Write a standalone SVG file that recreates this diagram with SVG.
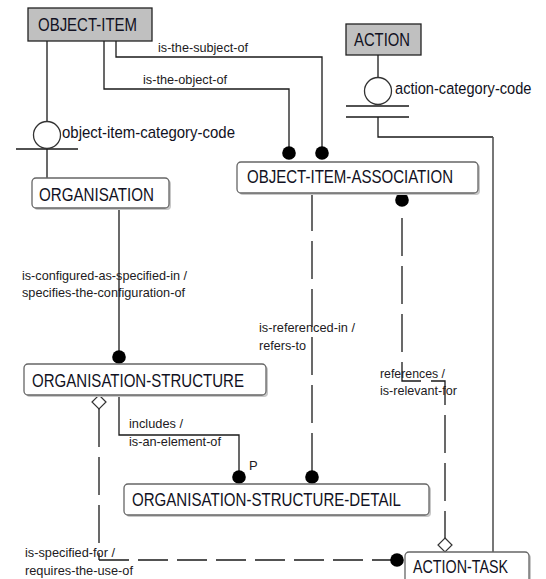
<svg xmlns="http://www.w3.org/2000/svg" width="546" height="579" viewBox="0 0 546 579">
  <style>
    .bg { fill: #ffffff; }
    .ent { fill: #ffffff; stroke: #666666; stroke-width: 1.3; }
    .shadow { fill: #c8c8c8; }
    .key { fill: #c0c0c0; stroke: #222222; stroke-width: 1.3; }
    .name { font-family: "Liberation Sans", Arial, sans-serif; font-size: 17.5px; fill: #111122; }
    .lbl { font-family: "Liberation Sans", Arial, sans-serif; font-size: 13px; fill: #221a22; }
    .cat { font-family: "Liberation Sans", Arial, sans-serif; font-size: 17px; fill: #111122; }
    .ln { fill: none; stroke: #1a1a1a; stroke-width: 1.3; }
    .dash { fill: none; stroke: #1a1a1a; stroke-width: 1.3; stroke-dasharray: 38 10; }
    .dashh { fill: none; stroke: #1a1a1a; stroke-width: 1.3; stroke-dasharray: 30 9; }
    .dot { fill: #000000; }
    .ring { fill: #ffffff; stroke: #333333; stroke-width: 1.3; }
    .dia { fill: #ffffff; stroke: #333333; stroke-width: 1.2; }
  </style>
  <rect class="bg" x="0" y="0" width="546" height="579"/>

  <!-- relationships -->
  <g id="connectors">
    <!-- OBJECT-ITEM category to ORGANISATION -->
    <path class="ln" d="M47,41 V121 M47,149 V178 M16,149 H78"/>
    <circle class="ring" cx="47" cy="135" r="13.5"/>
    <!-- ACTION category to ACTION-TASK -->
    <path class="ln" d="M378,55 V77 M346,106 H409 M346,117 H409 M378,117 V137 H493"/>
    <path d="M493,137 V552" fill="none" stroke="#555555" stroke-width="1.6"/>
    <circle class="ring" cx="378" cy="91" r="13.5"/>
    <!-- is-the-subject-of / is-the-object-of -->
    <path class="ln" d="M116,41 V57 H322 V153"/>
    <path class="ln" d="M104,41 V89 H289 V153"/>
    <circle class="dot" cx="322" cy="153" r="6.8"/>
    <circle class="dot" cx="289" cy="153" r="6.8"/>
    <!-- ORGANISATION to ORGANISATION-STRUCTURE -->
    <path class="ln" d="M119,208 V357"/>
    <circle class="dot" cx="119" cy="357" r="6.8"/>
    <!-- includes / is-an-element-of -->
    <path class="ln" d="M119,395 V435 H239 V477"/>
    <circle class="dot" cx="239" cy="477" r="6.8"/>
    <!-- is-referenced-in / refers-to -->
    <path class="dash" d="M312,193 V477"/>
    <circle class="dot" cx="312" cy="477" r="6.8"/>
    <!-- references / is-relevant-for -->
    <circle class="dot" cx="402" cy="200" r="6.8"/>
    <path class="dash" d="M402,218 V381 H445 V538"/>
    <polygon class="dia" points="445,538 452,545 445,552 438,545"/>
    <!-- is-specified-for / requires-the-use-of -->
    <polygon class="dia" points="99,395 106,402 99,409 92,402"/>
    <path class="dash" d="M99,409 V560"/>
    <path class="dashh" d="M99,560 H397"/>
    <circle class="dot" cx="397" cy="560" r="6.8"/>
  </g>

  <!-- relationship and category labels -->
  <g id="labels">
    <text class="lbl" x="158" y="52" textLength="90" lengthAdjust="spacingAndGlyphs">is-the-subject-of</text>
    <text class="lbl" x="143" y="84" textLength="84" lengthAdjust="spacingAndGlyphs">is-the-object-of</text>
    <text class="cat" x="62" y="138" textLength="173" lengthAdjust="spacingAndGlyphs">object-item-category-code</text>
    <text class="cat" transform="translate(395 94) scale(0.86 1)">action-category-code</text>
    <text class="lbl" x="22" y="280" textLength="165" lengthAdjust="spacingAndGlyphs">is-configured-as-specified-in /</text>
    <text class="lbl" x="22" y="297" textLength="163" lengthAdjust="spacingAndGlyphs">specifies-the-configuration-of</text>
    <text class="lbl" x="259" y="332" textLength="96" lengthAdjust="spacingAndGlyphs">is-referenced-in /</text>
    <text class="lbl" x="259" y="350" textLength="47" lengthAdjust="spacingAndGlyphs">refers-to</text>
    <text class="lbl" x="380" y="378" textLength="65" lengthAdjust="spacingAndGlyphs">references /</text>
    <text class="lbl" x="380" y="395" textLength="77" lengthAdjust="spacingAndGlyphs">is-relevant-for</text>
    <text class="lbl" x="129" y="428" textLength="54" lengthAdjust="spacingAndGlyphs">includes /</text>
    <text class="lbl" x="129" y="446" textLength="92" lengthAdjust="spacingAndGlyphs">is-an-element-of</text>
    <text class="lbl" x="249" y="470">P</text>
    <text class="lbl" x="25" y="557" textLength="90" lengthAdjust="spacingAndGlyphs">is-specified-for /</text>
    <text class="lbl" x="25" y="575" textLength="108" lengthAdjust="spacingAndGlyphs">requires-the-use-of</text>
  </g>

  <!-- entities -->
  <g id="object-item">
    <rect class="key" x="28" y="8" width="124" height="33"/>
    <text class="name" x="38" y="31" textLength="99" lengthAdjust="spacingAndGlyphs">OBJECT-ITEM</text>
  </g>
  <g id="action">
    <rect class="key" x="346" y="24" width="75" height="31"/>
    <text class="name" x="354" y="46" textLength="56" lengthAdjust="spacingAndGlyphs">ACTION</text>
  </g>
  <g id="object-item-association">
    <rect class="shadow" x="239" y="164" width="241" height="31" rx="4"/>
    <rect class="ent" x="237" y="162" width="241" height="31" rx="4"/>
    <text class="name" x="247" y="183" textLength="206" lengthAdjust="spacingAndGlyphs">OBJECT-ITEM-ASSOCIATION</text>
  </g>
  <g id="organisation">
    <rect class="shadow" x="34" y="180" width="137" height="30" rx="4"/>
    <rect class="ent" x="32" y="178" width="137" height="30" rx="4"/>
    <text class="name" x="39" y="201" textLength="115" lengthAdjust="spacingAndGlyphs">ORGANISATION</text>
  </g>
  <g id="organisation-structure">
    <rect class="shadow" x="26" y="366" width="242" height="31" rx="4"/>
    <rect class="ent" x="24" y="364" width="242" height="31" rx="4"/>
    <text class="name" x="32" y="387" textLength="212" lengthAdjust="spacingAndGlyphs">ORGANISATION-STRUCTURE</text>
  </g>
  <g id="organisation-structure-detail">
    <rect class="shadow" x="126" y="486" width="305" height="31" rx="4"/>
    <rect class="ent" x="124" y="484" width="305" height="31" rx="4"/>
    <text class="name" x="132" y="506" textLength="269" lengthAdjust="spacingAndGlyphs">ORGANISATION-STRUCTURE-DETAIL</text>
  </g>
  <g id="action-task">
    <rect class="shadow" x="407" y="554" width="124" height="40" rx="4"/>
    <rect class="ent" x="405" y="552" width="124" height="40" rx="4"/>
    <text class="name" x="413" y="573" textLength="95" lengthAdjust="spacingAndGlyphs">ACTION-TASK</text>
  </g>
</svg>
